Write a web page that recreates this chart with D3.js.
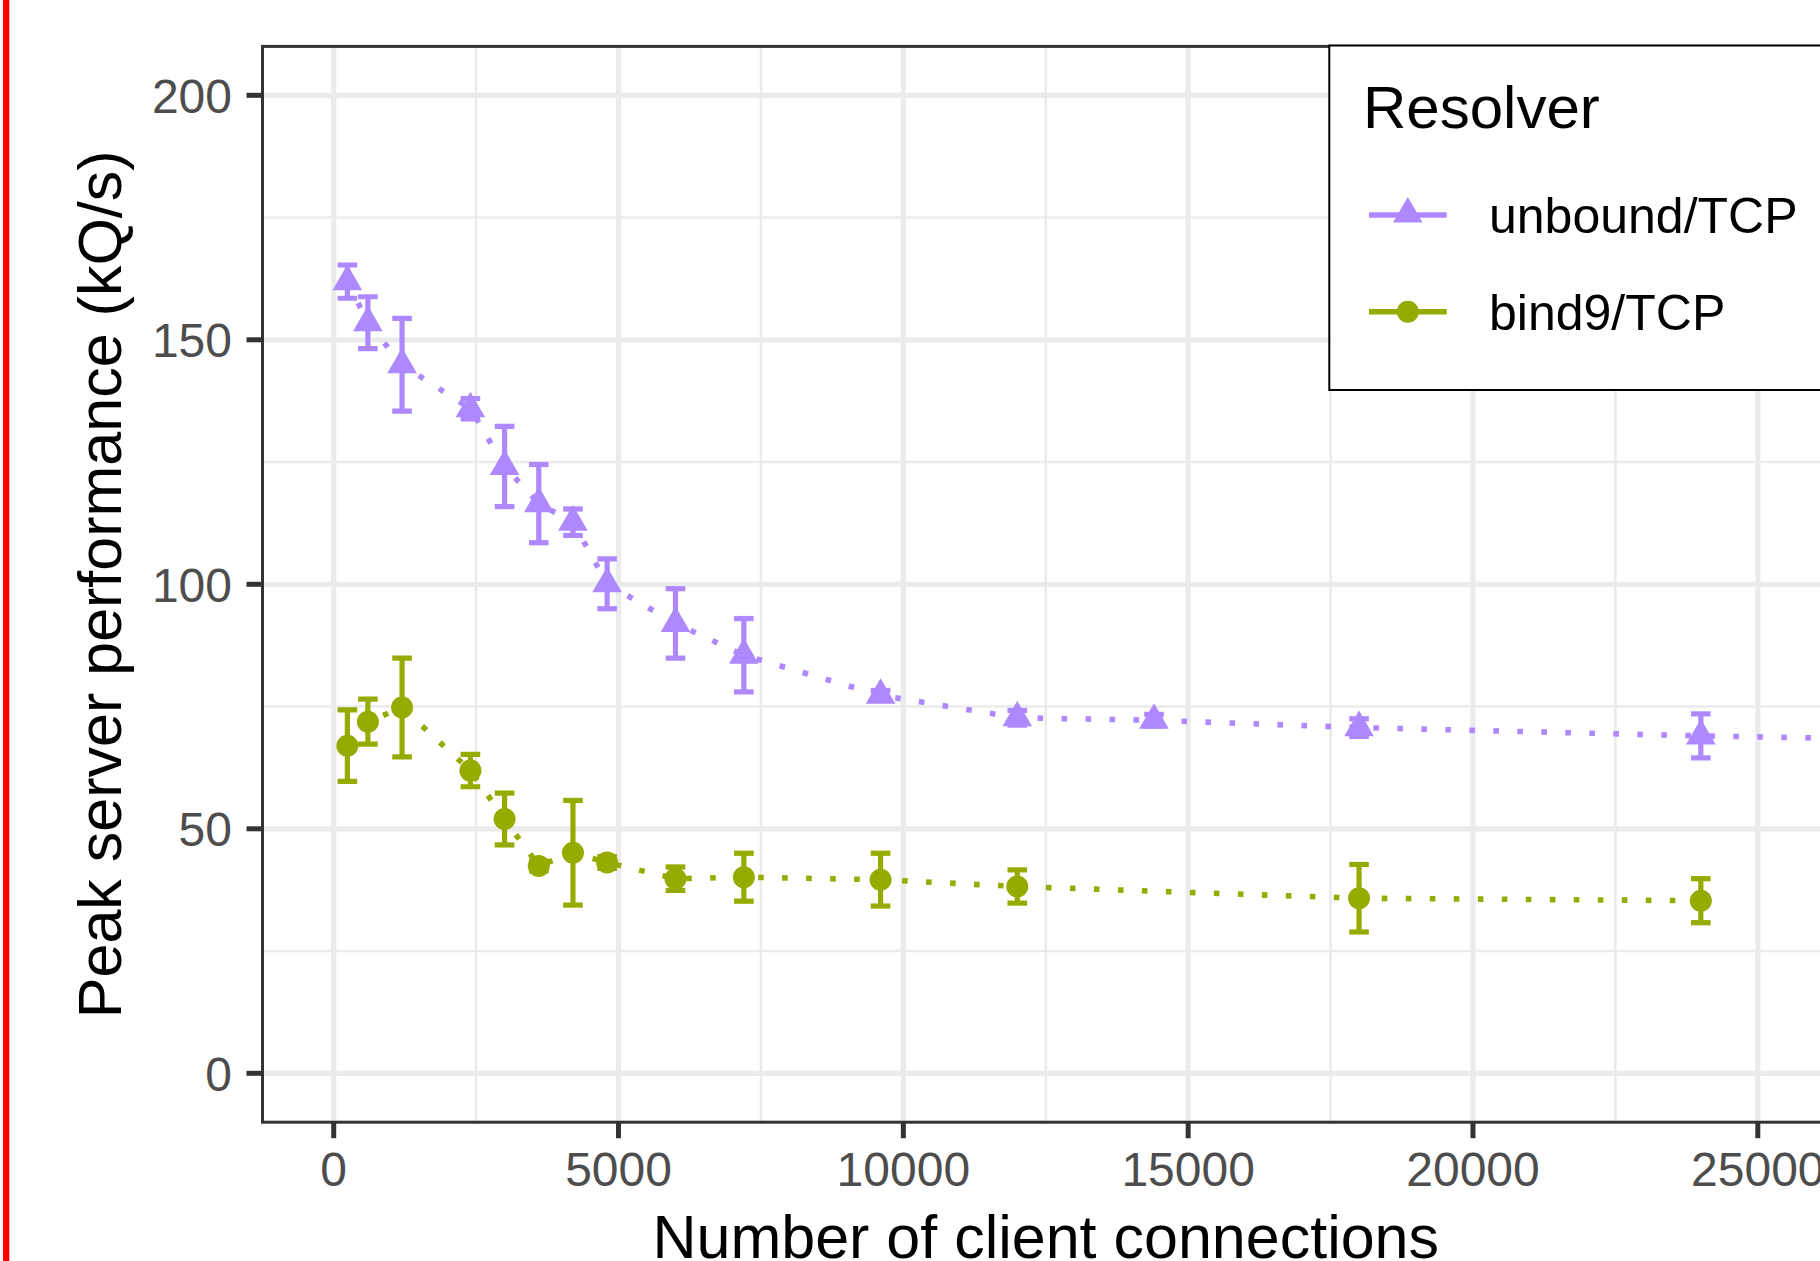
<!DOCTYPE html>
<html>
<head>
<meta charset="utf-8">
<script src="https://cdn.jsdelivr.net/npm/d3@7"></script>
<style>
  body { margin: 0; background: #fff; }
  svg { display: block; font-family: "Liberation Sans", Arial, sans-serif; }
</style>
</head>
<body>
<script>
// Peak server performance vs number of client connections

const width = 1820, height = 1261;

// Data (mean and +/- spread)
const resolvers = ["unbound/TCP", "bind9/TCP"];
const colors = ["#ad88ff", "#95ab00"];

const unboundConns = [240, 600, 1200, 2400, 3000, 3600, 4200, 4800, 6000, 7200, 9600, 12000, 14400, 18000, 24000, 28800];
const unboundMean  = [161.9, 153.5, 144.9, 135.9, 124.1, 116.5, 112.7, 100.1, 92.0, 85.5, 77.3, 72.7, 72.2, 70.7, 69.0, 68.0];
const unboundErr   = [3.4, 5.3, 9.5, 2.1, 8.2, 8.0, 2.7, 5.1, 7.1, 7.5, 1.0, 1.5, 1.2, 1.8, 4.5, 2.0];

const bindConns = [240, 600, 1200, 2400, 3000, 3600, 4200, 4800, 6000, 7200, 9600, 12000, 18000, 24000];
const bindMean  = [67.0, 71.9, 74.8, 61.9, 52.0, 42.4, 45.1, 43.1, 39.8, 40.1, 39.6, 38.2, 35.8, 35.3];
const bindErr   = [7.3, 4.6, 10.1, 3.3, 5.3, 1.0, 10.7, 1.2, 2.4, 4.9, 5.4, 3.4, 6.9, 4.5];

const xTicks = [0, 5000, 10000, 15000, 20000, 25000];
const xMinor = [2500, 7500, 12500, 17500, 22500];
const yTicks = [0, 50, 100, 150, 200];
const yMinor = [25, 75, 125, 175];

const xLimits = [0, 25000];
const yLimits = [0, 200];

const series = [
  { name: resolvers[0], color: colors[0], shape: "triangle",
    pts: unboundConns.map((c, i) => ({ x: c, y: unboundMean[i], e: unboundErr[i] })) },
  { name: resolvers[1], color: colors[1], shape: "circle",
    pts: bindConns.map((c, i) => ({ x: c, y: bindMean[i], e: bindErr[i] })) }
];

const svg = d3.select("body").append("svg")
  .attr("width", width)
  .attr("height", height);

svg.append("rect").attr("width", width).attr("height", height).attr("fill", "#fff");

// Panel geometry
const panel = { left: 262.5, right: 1829, top: 46.4, bottom: 1122.2 };

// 5% expansion like ggplot
const xPad = (xLimits[1] - xLimits[0]) * 0.05;
const yPad = (yLimits[1] - yLimits[0]) * 0.05;

const x = d3.scaleLinear()
  .domain([xLimits[0] - xPad, xLimits[1] + xPad])
  .range([panel.left, panel.right]);

const y = d3.scaleLinear()
  .domain([yLimits[0] - yPad, yLimits[1] + yPad])
  .range([panel.bottom, panel.top]);

svg.append("defs").append("clipPath")
  .attr("id", "panel-clip")
  .append("rect")
  .attr("x", panel.left)
  .attr("y", panel.top)
  .attr("width", panel.right - panel.left)
  .attr("height", panel.bottom - panel.top);

// Grid lines
const grid = svg.append("g").attr("clip-path", "url(#panel-clip)");

grid.selectAll("line.ygmin")
  .data(yMinor).enter().append("line")
  .attr("x1", panel.left).attr("x2", panel.right)
  .attr("y1", d => y(d)).attr("y2", d => y(d))
  .attr("stroke", "#ebebeb").attr("stroke-width", 2.6);

grid.selectAll("line.xgmin")
  .data(xMinor).enter().append("line")
  .attr("y1", panel.top).attr("y2", panel.bottom)
  .attr("x1", d => x(d)).attr("x2", d => x(d))
  .attr("stroke", "#ebebeb").attr("stroke-width", 2.6);

grid.selectAll("line.ygmaj")
  .data(yTicks).enter().append("line")
  .attr("x1", panel.left).attr("x2", panel.right)
  .attr("y1", d => y(d)).attr("y2", d => y(d))
  .attr("stroke", "#ebebeb").attr("stroke-width", 5.2);

grid.selectAll("line.xgmaj")
  .data(xTicks).enter().append("line")
  .attr("y1", panel.top).attr("y2", panel.bottom)
  .attr("x1", d => x(d)).attr("x2", d => x(d))
  .attr("stroke", "#ebebeb").attr("stroke-width", 5.2);

// Data layers
const plot = svg.append("g").attr("clip-path", "url(#panel-clip)");

const line = d3.line().x(d => x(d.x)).y(d => y(d.y));
const triangle = d3.symbol().type(d3.symbolTriangle).size(380);

series.forEach(s => {
  const g = plot.append("g");

  // dotted connecting line
  g.append("path")
    .datum(s.pts)
    .attr("d", line)
    .attr("fill", "none")
    .attr("stroke", s.color)
    .attr("stroke-width", 5.6)
    .attr("stroke-dasharray", "5.6 18.4");

  // error bars
  const eb = g.selectAll("g.eb").data(s.pts).enter().append("g")
    .attr("stroke", s.color).attr("stroke-width", 5.2);
  eb.append("line")
    .attr("x1", d => x(d.x)).attr("x2", d => x(d.x))
    .attr("y1", d => y(d.y - d.e)).attr("y2", d => y(d.y + d.e));
  eb.append("line")
    .attr("x1", d => x(d.x) - 9.8).attr("x2", d => x(d.x) + 9.8)
    .attr("y1", d => y(d.y + d.e)).attr("y2", d => y(d.y + d.e));
  eb.append("line")
    .attr("x1", d => x(d.x) - 9.8).attr("x2", d => x(d.x) + 9.8)
    .attr("y1", d => y(d.y - d.e)).attr("y2", d => y(d.y - d.e));

  // points
  if (s.shape === "triangle") {
    g.selectAll("path.pt").data(s.pts).enter().append("path")
      .attr("d", triangle)
      .attr("transform", d => `translate(${x(d.x)},${y(d.y)})`)
      .attr("fill", s.color);
  } else {
    g.selectAll("circle.pt").data(s.pts).enter().append("circle")
      .attr("cx", d => x(d.x)).attr("cy", d => y(d.y))
      .attr("r", 11)
      .attr("fill", s.color);
  }
});

// Panel border
svg.append("rect")
  .attr("x", panel.left).attr("y", panel.top)
  .attr("width", panel.right - panel.left)
  .attr("height", panel.bottom - panel.top)
  .attr("fill", "none")
  .attr("stroke", "#333333")
  .attr("stroke-width", 3);

// Axis ticks and labels
svg.selectAll("line.ytick")
  .data(yTicks).enter().append("line")
  .attr("x1", panel.left - 16).attr("x2", panel.left)
  .attr("y1", d => y(d)).attr("y2", d => y(d))
  .attr("stroke", "#333333").attr("stroke-width", 5);

svg.selectAll("text.ylab")
  .data(yTicks).enter().append("text")
  .attr("x", 232)
  .attr("y", d => y(d) + 17.5)
  .attr("text-anchor", "end")
  .attr("font-size", "48px")
  .attr("fill", "#4d4d4d")
  .text(d => d);

svg.selectAll("line.xtick")
  .data(xTicks).enter().append("line")
  .attr("x1", d => x(d)).attr("x2", d => x(d))
  .attr("y1", panel.bottom).attr("y2", panel.bottom + 16)
  .attr("stroke", "#333333").attr("stroke-width", 5);

svg.selectAll("text.xlab")
  .data(xTicks).enter().append("text")
  .attr("x", d => x(d))
  .attr("y", 1186)
  .attr("text-anchor", "middle")
  .attr("font-size", "48px")
  .attr("fill", "#4d4d4d")
  .text(d => d);

// Axis titles
svg.append("text")
  .attr("transform", `translate(120.7,${(panel.top + panel.bottom) / 2}) rotate(-90)`)
  .attr("text-anchor", "middle")
  .attr("font-size", "61px")
  .attr("fill", "#000")
  .text("Peak server performance (kQ/s)");

svg.append("text")
  .attr("x", (panel.left + panel.right) / 2)
  .attr("y", 1258)
  .attr("text-anchor", "middle")
  .attr("font-size", "61px")
  .attr("fill", "#000")
  .text("Number of client connections");

// Legend (inside top-right corner)
const legend = svg.append("g");

legend.append("rect")
  .attr("x", 1329.3).attr("y", 45.5)
  .attr("width", panel.right - 1329.3)
  .attr("height", 390 - 45.5)
  .attr("fill", "#fff")
  .attr("stroke", "#000")
  .attr("stroke-width", 2);

legend.append("text")
  .attr("x", 1363).attr("y", 128.3)
  .attr("font-size", "60px")
  .attr("fill", "#000")
  .text("Resolver");

const keyY = [215, 311.7];
series.forEach((s, i) => {
  const k = legend.append("g");
  k.append("line")
    .attr("x1", 1369).attr("x2", 1446.7)
    .attr("y1", keyY[i]).attr("y2", keyY[i])
    .attr("stroke", s.color).attr("stroke-width", 5.6);
  if (s.shape === "triangle") {
    k.append("path")
      .attr("d", triangle())
      .attr("transform", `translate(1407.8,${keyY[i] - 1})`)
      .attr("fill", s.color);
  } else {
    k.append("circle")
      .attr("cx", 1407.8).attr("cy", keyY[i]).attr("r", 11)
      .attr("fill", s.color);
  }
  k.append("text")
    .attr("x", 1489).attr("y", keyY[i] + 18.3)
    .attr("font-size", "50px")
    .attr("fill", "#000")
    .text(s.name);
});

// red marker stripe at the left edge
svg.append("rect")
  .attr("x", 3).attr("y", 0)
  .attr("width", 6.3).attr("height", height)
  .attr("fill", "#ff0000");
</script>
</body>
</html>
